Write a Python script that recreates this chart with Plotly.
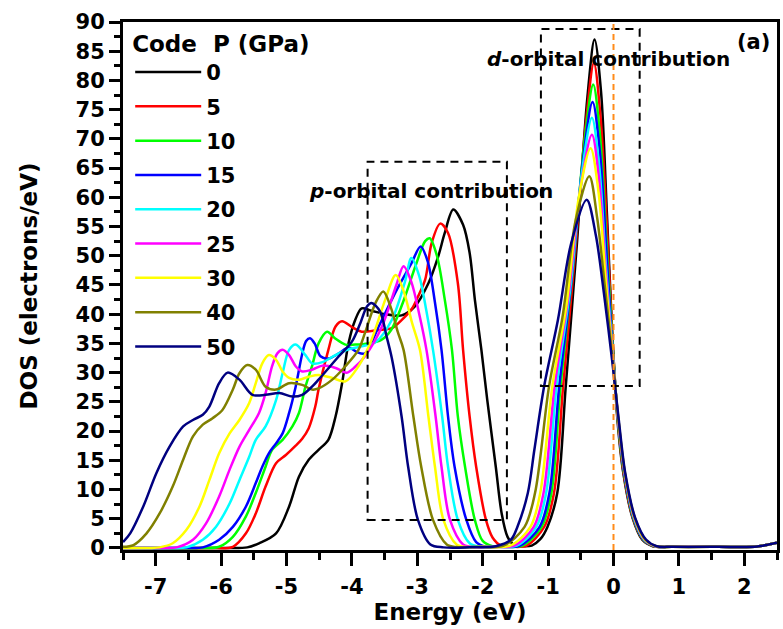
import plotly.graph_objects as go

# ---------------- data ----------------
PRESSURES = ["0", "5", "10", "15", "20", "25", "30", "40", "50"]
COLORS = ["#000000", "#FF0000", "#00FF00", "#0000FF", "#00FFFF",
          "#FF00FF", "#FFFF00", "#808000", "#000080"]

E_P0 = [-7.5, -6.0, -5.6, -5.42, -5.16, -4.96, -4.81, -4.66, -4.51, -4.36, -4.25, -4.15, -4.05, -3.95, -3.85, -3.70, -3.49, -3.24, -3.04, -2.83, -2.68, -2.58, -2.45, -2.30, -2.20, -2.12, -2.02, -1.93, -1.80, -1.71, -1.62, -1.52, -1.40, -1.25, -1.12, -1.01, -0.86, -0.73, -0.56, -0.40, -0.29, -0.19, -0.10, -0.02, 0.06, 0.15, 0.29, 0.44, 0.60, 0.9, 1.6, 2.2, 2.5]
DOS_P0 = [0, 0, 0.1, 0.8, 2.5, 7.1, 12.2, 15.1, 16.8, 18.5, 22.5, 28.2, 35.1, 39.0, 41.0, 40.6, 40.0, 39.8, 41.3, 45.3, 49.9, 53.9, 57.9, 55.3, 50.5, 42.5, 33.9, 25.3, 13.9, 5.9, 1.9, 0.5, 0.3, 0.4, 1.5, 3.6, 9.4, 27.7, 52, 77, 87.0, 78, 57, 37, 22, 12.8, 5.2, 1.4, 0.3, 0.2, 0.2, 0.25, 0.9]

E_P5 = [-7.5, -6.2, -5.82, -5.62, -5.47, -5.32, -5.16, -5.01, -4.86, -4.76, -4.66, -4.56, -4.51, -4.36, -4.25, -4.15, -4.00, -3.85, -3.60, -3.39, -3.24, -3.09, -2.99, -2.88, -2.78, -2.65, -2.53, -2.38, -2.30, -2.20, -2.10, -1.95, -1.85, -1.72, -1.55, -1.33, -1.06, -0.91, -0.77, -0.59, -0.42, -0.30, -0.20, -0.10, -0.02, 0.065, 0.155, 0.295, 0.45, 0.61, 0.9, 1.6, 2.2, 2.5]
DOS_P5 = [0, 0, 0.2, 2.5, 5.9, 10.5, 14.5, 15.9, 17.5, 18.7, 20.5, 24.2, 27.1, 33.9, 37.9, 38.8, 37.8, 37.0, 37.3, 37.6, 39.0, 40.8, 43.0, 45.9, 52.2, 55.5, 53.9, 45.3, 33.9, 22.5, 13.9, 4.8, 1.8, 0.4, 0.2, 0.4, 3.6, 9.4, 27.7, 50, 73, 83.0, 74, 55, 36.5, 22, 12.8, 5.2, 1.4, 0.3, 0.2, 0.2, 0.25, 0.9]

E_P10 = [-7.5, -6.3, -6.03, -5.82, -5.62, -5.47, -5.32, -5.22, -5.06, -4.91, -4.81, -4.71, -4.61, -4.51, -4.38, -4.25, -4.10, -3.95, -3.75, -3.55, -3.40, -3.22, -3.02, -2.88, -2.81, -2.70, -2.58, -2.47, -2.38, -2.27, -2.12, -2.00, -1.85, -1.65, -1.39, -1.10, -0.95, -0.81, -0.62, -0.44, -0.31, -0.21, -0.11, -0.02, 0.065, 0.16, 0.30, 0.455, 0.62, 0.9, 1.6, 2.2, 2.5]
DOS_P10 = [0, 0, 0.2, 1.9, 5.4, 9.4, 13.9, 16.8, 18.5, 20.8, 23.1, 27.6, 31.1, 35.0, 37.0, 35.8, 34.8, 34.8, 35.0, 35.6, 37.3, 42.0, 48.5, 52.5, 53.0, 50.0, 42.5, 33.9, 22.5, 13.9, 4.8, 1.2, 0.3, 0.2, 0.4, 3.6, 9.4, 27.7, 48, 70, 79.3, 71, 53, 36, 22, 12.8, 5.2, 1.4, 0.3, 0.2, 0.2, 0.25, 0.9]

E_P15 = [-7.5, -6.6, -6.28, -6.03, -5.82, -5.62, -5.47, -5.37, -5.27, -5.16, -5.06, -4.96, -4.86, -4.76, -4.70, -4.64, -4.57, -4.48, -4.36, -4.20, -4.05, -3.92, -3.80, -3.59, -3.34, -3.09, -2.95, -2.84, -2.73, -2.63, -2.53, -2.43, -2.25, -2.10, -1.95, -1.75, -1.43, -1.13, -0.98, -0.83, -0.64, -0.46, -0.32, -0.21, -0.11, -0.02, 0.07, 0.165, 0.305, 0.46, 0.63, 0.9, 1.6, 2.2, 2.5]
DOS_P15 = [0, 0, 0.1, 1.4, 3.6, 7.1, 11.1, 13.9, 16.2, 17.9, 19.6, 23.1, 27.6, 33.2, 35.4, 35.9, 35.0, 32.8, 32.4, 33.3, 34.3, 33.5, 33.3, 37.9, 43.6, 48.7, 51.6, 49.0, 42.0, 33.9, 22.5, 13.9, 4.8, 1.0, 0.2, 0.2, 0.4, 3.6, 9.4, 27.7, 46, 67, 76.3, 68, 51, 35, 22, 12.8, 5.2, 1.4, 0.3, 0.2, 0.2, 0.25, 0.9]

E_P20 = [-7.5, -6.8, -6.53, -6.28, -6.08, -5.87, -5.72, -5.57, -5.47, -5.32, -5.16, -5.06, -4.96, -4.86, -4.71, -4.61, -4.45, -4.25, -4.05, -3.85, -3.64, -3.39, -3.19, -3.09, -2.97, -2.86, -2.76, -2.62, -2.53, -2.38, -2.20, -2.05, -1.85, -1.48, -1.18, -1.03, -0.87, -0.66, -0.48, -0.33, -0.22, -0.12, -0.02, 0.07, 0.17, 0.31, 0.47, 0.64, 0.9, 1.6, 2.2, 2.5]
DOS_P20 = [0, 0, 0.1, 1.4, 3.6, 7.6, 11.6, 15.6, 18.5, 20.8, 25.3, 29.9, 33.9, 34.8, 33.0, 31.6, 31.8, 33.0, 34.0, 34.5, 35.2, 39.0, 45.5, 49.6, 46.5, 40.5, 33.9, 22.5, 13.9, 4.8, 0.8, 0.2, 0.2, 0.4, 3.6, 9.4, 27.7, 44.5, 64.5, 73.6, 65.5, 49, 34.5, 22, 12.8, 5.2, 1.4, 0.3, 0.2, 0.2, 0.25, 0.9]

E_P25 = [-7.5, -6.95, -6.68, -6.43, -6.23, -6.03, -5.87, -5.72, -5.57, -5.42, -5.32, -5.22, -5.14, -5.06, -4.96, -4.86, -4.76, -4.61, -4.45, -4.25, -4.08, -3.95, -3.80, -3.54, -3.32, -3.21, -3.09, -2.97, -2.86, -2.72, -2.63, -2.50, -2.30, -2.15, -1.90, -1.52, -1.22, -1.07, -0.90, -0.69, -0.50, -0.33, -0.22, -0.12, -0.02, 0.07, 0.17, 0.315, 0.475, 0.64, 0.9, 1.6, 2.2, 2.5]
DOS_P25 = [0, 0, 0.1, 1.4, 4.2, 8.8, 13.4, 17.3, 20.2, 23.1, 26.5, 31.1, 33.3, 33.9, 33.0, 31.1, 30.2, 30.5, 31.2, 30.8, 30.0, 31.0, 32.8, 37.9, 45.0, 48.2, 45.5, 40.0, 33.9, 22.5, 13.9, 4.8, 0.6, 0.15, 0.2, 0.4, 3.6, 9.4, 27.7, 43, 62, 70.7, 63, 47.5, 34, 22, 12.8, 5.2, 1.4, 0.3, 0.2, 0.2, 0.25, 0.9]

E_P30 = [-7.5, -7.1, -6.94, -6.74, -6.53, -6.33, -6.18, -6.03, -5.87, -5.72, -5.57, -5.47, -5.37, -5.27, -5.16, -5.06, -4.96, -4.81, -4.66, -4.51, -4.30, -4.10, -3.90, -3.70, -3.49, -3.33, -3.21, -3.08, -2.96, -2.83, -2.73, -2.60, -2.40, -2.25, -2.00, -1.58, -1.27, -1.12, -0.935, -0.72, -0.53, -0.35, -0.23, -0.12, -0.02, 0.075, 0.175, 0.32, 0.48, 0.65, 0.9, 1.6, 2.2, 2.5]
DOS_P30 = [0, 0, 0.1, 0.8, 3.1, 7.1, 11.6, 16.2, 19.6, 21.9, 24.8, 28.2, 31.6, 33.0, 32.2, 30.2, 29.1, 28.8, 29.3, 29.6, 29.1, 28.5, 31.1, 35.6, 42.5, 46.7, 44.0, 38.5, 33.9, 22.5, 13.9, 4.8, 0.6, 0.15, 0.2, 0.4, 3.6, 9.4, 27.7, 41.5, 60, 68.4, 61, 46, 33.5, 22, 12.8, 5.2, 1.4, 0.3, 0.2, 0.2, 0.25, 0.9]

E_P40 = [-7.5, -7.34, -7.14, -6.94, -6.74, -6.58, -6.43, -6.28, -6.13, -5.98, -5.82, -5.72, -5.60, -5.47, -5.32, -5.16, -4.96, -4.76, -4.61, -4.51, -4.30, -4.10, -3.90, -3.80, -3.64, -3.52, -3.40, -3.30, -3.21, -3.06, -2.94, -2.76, -2.55, -2.40, -2.10, -1.68, -1.36, -1.20, -0.985, -0.78, -0.58, -0.37, -0.25, -0.13, -0.02, 0.075, 0.175, 0.325, 0.49, 0.655, 0.9, 1.6, 2.2, 2.5]
DOS_P40 = [0.2, 0.5, 2.5, 5.9, 10.5, 15.1, 19.1, 21.1, 22.2, 23.6, 27.1, 29.9, 31.3, 30.5, 27.6, 27.1, 28.2, 27.9, 27.1, 27.3, 28.8, 31.1, 33.9, 36.8, 41.9, 43.9, 41.0, 37.0, 33.9, 22.5, 13.9, 4.8, 0.6, 0.15, 0.2, 0.4, 3.6, 9.4, 27.7, 39.5, 56, 63.6, 56.5, 44.5, 33, 22, 12.8, 5.2, 1.4, 0.3, 0.2, 0.2, 0.25, 0.9]

E_P50 = [-7.5, -7.39, -7.19, -6.99, -6.79, -6.58, -6.43, -6.28, -6.18, -6.03, -5.90, -5.72, -5.52, -5.32, -5.11, -4.91, -4.76, -4.61, -4.51, -4.20, -4.00, -3.87, -3.77, -3.70, -3.57, -3.47, -3.39, -3.24, -3.14, -2.99, -2.80, -2.60, -2.20, -1.80, -1.57, -1.47, -1.31, -1.21, -1.06, -0.85, -0.65, -0.41, -0.27, -0.14, -0.02, 0.08, 0.18, 0.33, 0.50, 0.66, 0.9, 1.6, 2.2, 2.5]
DOS_P50 = [1.0, 2.5, 7.1, 12.8, 17.3, 20.8, 21.9, 22.8, 24.2, 28.2, 30.0, 28.8, 26.2, 26.2, 26.5, 25.9, 26.2, 27.6, 28.8, 32.8, 35.3, 38.5, 41.3, 41.9, 40.5, 36.2, 32.5, 22.5, 13.9, 4.8, 0.6, 0.1, 0.1, 0.3, 1.4, 3.6, 9.4, 16.8, 27.7, 39, 52, 59.6, 53.5, 43, 32, 22, 12.8, 5.2, 1.4, 0.3, 0.2, 0.2, 0.25, 0.9]

SERIES = [(E_P0, DOS_P0), (E_P5, DOS_P5), (E_P10, DOS_P10), (E_P15, DOS_P15),
          (E_P20, DOS_P20), (E_P25, DOS_P25), (E_P30, DOS_P30), (E_P40, DOS_P40),
          (E_P50, DOS_P50)]

X_TICKS = [-7, -6, -5, -4, -3, -2, -1, 0, 1, 2]
X_TICK_TEXT = ["-7", "-6", "-5", "-4", "-3", "-2", "-1", "0", "1", "2"]
Y_TICKS = list(range(0, 91, 5))

# boxes: (x0, x1, y0, y1)
P_BOX = (-3.76, -1.63, 4.8, 66.1)
D_BOX = (-1.11, 0.40, 27.7, 88.8)
FERMI = 0.0

FONT = "DejaVu Sans, Verdana, sans-serif"

fig = go.Figure()
for (e, d), p, c in zip(SERIES, PRESSURES, COLORS):
    assert len(e) == len(d), p
    fig.add_trace(go.Scatter(
        x=e, y=d, mode="lines", name=p, legendgroup=p,
        line=dict(color=c, width=2.5, shape="spline", smoothing=0.9),
    ))

fig.update_layout(
    width=783, height=629,
    margin=dict(l=123, r=3, t=22, b=79, pad=0),
    paper_bgcolor="white", plot_bgcolor="white",
    font=dict(family=FONT, color="black"),
    showlegend=True,
    legend=dict(
        x=0.011, y=1.0, xanchor="left", yanchor="top",
        bgcolor="rgba(0,0,0,0)", borderwidth=0,
        font=dict(size=21, family=FONT, weight="bold"),
        title=dict(text="Code\u00a0\u00a0P (GPa)", font=dict(size=23, family=FONT, weight="bold")),
        tracegroupgap=4, itemwidth=66,
    ),
    xaxis=dict(
        range=[-7.5, 2.5], showgrid=False, zeroline=False,
        showline=True, linewidth=3, linecolor="black", mirror=True,
        ticks="outside", ticklen=13, tickwidth=3, tickcolor="black",
        tickvals=X_TICKS, ticktext=X_TICK_TEXT, ticklabelstandoff=3,
        tickfont=dict(size=21, family=FONT, weight="bold"),
        minor=dict(ticks="outside", ticklen=7, tickwidth=3, dtick=0.5, tickcolor="black"),
        title=dict(text="Energy (eV)", font=dict(size=23, family=FONT, weight="bold"), standoff=6),
    ),
    yaxis=dict(
        range=[-0.35, 90], showgrid=False, zeroline=False,
        showline=True, linewidth=3, linecolor="black", mirror=True,
        ticks="outside", ticklen=11, tickwidth=3, tickcolor="black",
        tickvals=Y_TICKS,
        tickfont=dict(size=21, family=FONT, weight="bold"),
        minor=dict(ticks="outside", ticklen=6, tickwidth=3, dtick=2.5, tickcolor="black"),
        title=dict(text="DOS (electrons/eV)", font=dict(size=23, family=FONT, weight="bold"), standoff=32),
    ),
)

dash = "8px,6px"
for (x0, x1, y0, y1) in (P_BOX, D_BOX):
    fig.add_shape(type="rect", xref="x", yref="y", x0=x0, x1=x1, y0=y0, y1=y1,
                  line=dict(color="black", width=2, dash=dash), fillcolor="rgba(0,0,0,0)")
fig.add_shape(type="line", xref="x", yref="paper", x0=FERMI, x1=FERMI, y0=0, y1=1,
              line=dict(color="#FF8C1A", width=2, dash="6px,4px"))

fig.add_annotation(x=-2.79, y=61.0, xref="x", yref="y", showarrow=False,
                   text="<b><i>p</i>-orbital contribution</b>",
                   font=dict(size=20, family=FONT))
fig.add_annotation(x=-0.07, y=83.6, xref="x", yref="y", showarrow=False,
                   text="<b><i>d</i>-orbital contribution</b>",
                   font=dict(size=20, family=FONT))
fig.add_annotation(x=2.14, y=86.6, xref="x", yref="y", showarrow=False,
                   text="<b>(a)</b>", font=dict(size=21, family=FONT))

fig.write_html("out.html")
